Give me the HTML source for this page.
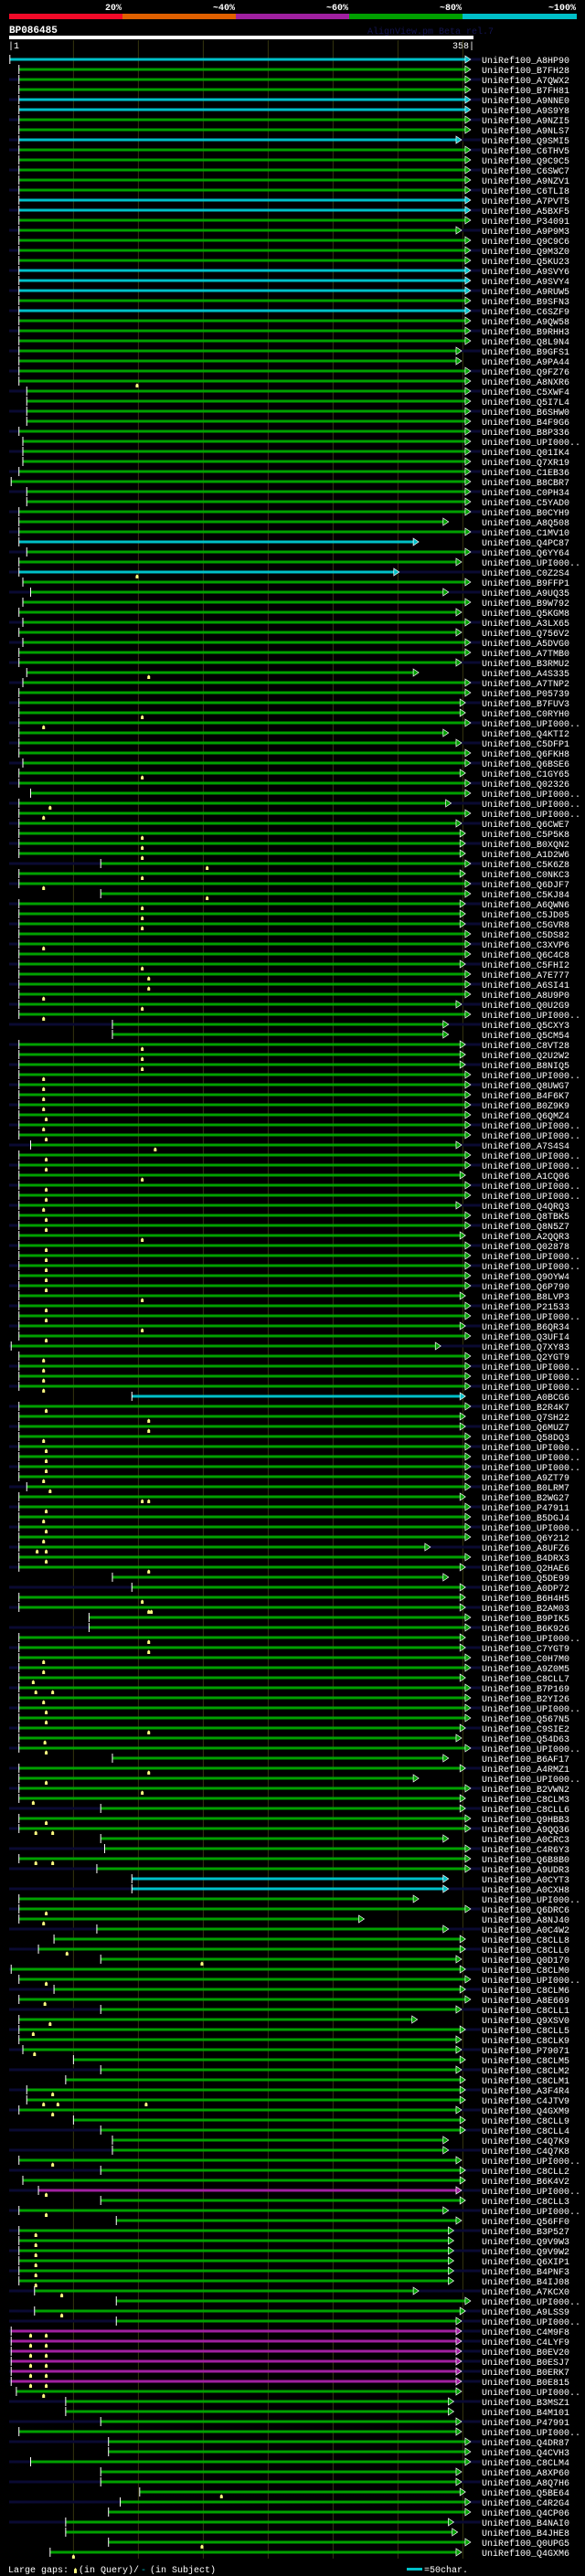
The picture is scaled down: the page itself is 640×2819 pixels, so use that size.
<!DOCTYPE html>
<html><head><meta charset="utf-8"><title>BP086485 alignment</title>
<style>
html,body{margin:0;padding:0;background:#000;}
svg{display:block;}
text{font-family:"Liberation Mono",monospace;}
</style></head>
<body>
<svg id="chart" xmlns="http://www.w3.org/2000/svg" width="640" height="2819" viewBox="0 0 640 2819">
<rect x="0" y="0" width="640" height="2819" fill="#000"/>
<g>
<rect x="10" y="15" width="124" height="6" fill="#f20a28"/>
<rect x="134" y="15" width="124" height="6" fill="#e06000"/>
<rect x="258" y="15" width="124" height="6" fill="#a020a0"/>
<rect x="382" y="15" width="124" height="6" fill="#00a000"/>
<rect x="506" y="15" width="125" height="6" fill="#00c0c8"/>
<text x="133" y="11" fill="#fff" font-size="10" font-weight="bold" text-anchor="end">20%</text>
<text x="257" y="11" fill="#fff" font-size="10" font-weight="bold" text-anchor="end">~40%</text>
<text x="381" y="11" fill="#fff" font-size="10" font-weight="bold" text-anchor="end">~60%</text>
<text x="505" y="11" fill="#fff" font-size="10" font-weight="bold" text-anchor="end">~80%</text>
<text x="630" y="11" fill="#fff" font-size="10" font-weight="bold" text-anchor="end">~100%</text>
</g>
<text x="10" y="36" fill="#fff" font-size="11" font-weight="bold">BP086485</text>
<text x="402" y="37" fill="#141450" font-size="10">AlignView.pm Beta rel.7</text>
<rect x="10" y="39" width="508" height="4" fill="#fff"/>
<text x="9" y="53" fill="#fff" font-size="10">|1</text>
<text x="519" y="53" fill="#fff" font-size="10" text-anchor="end">358|</text>
<g id="grid"></g>
<g id="rows"></g>
<g>
<text x="9" y="2815" fill="#fff" font-size="10">Large gaps:</text>
<path d="M81 2816 L81 2812 L82.5 2810 L84 2812 L84 2816 Z" fill="#ffff80"/>
<text x="86" y="2815" fill="#fff" font-size="10">(in Query)/</text>
<text x="154" y="2815" fill="#00c0c8" font-size="10">-</text>
<text x="164" y="2815" fill="#fff" font-size="10">(in Subject)</text>
<rect x="445" y="2810" width="17" height="3" fill="#00c0c8"/>
<text x="464" y="2815" fill="#fff" font-size="10">=50char.</text>
</g>
</svg>
<script>
const names = ["A8HP90","B7FH28","A7QWX2","B7FH81","A9NNE0","A9S9Y8","A9NZI5","A9NLS7","Q9SMI5","C6THV5","Q9C9C5","C6SWC7","A9NZV1","C6TLI8","A7PVT5","A5BXF5","P34091","A9P9M3","Q9C9C6","Q9M3Z0","Q5KU23","A9SVY6","A9SVY4","A9RUW5","B9SFN3","C6SZF9","A9QW58","B9RHH3",
"Q8L9N4","B9GFS1","A9PA44","Q9FZ76","A8NXR6","C5XWF4","Q5I7L4","B6SHW0","B4F9G6","B8P336","UPI000..","Q01IK4","Q7XR19","C1EB36","B8CBR7","C0PH34","C5YAD0","B0CYH9","A8Q508","C1MV10","Q4PC87","Q6YY64","UPI000..","C0Z2S4","B9FFP1","A9UQ35","B9W792",
"Q5KGM8","A3LX65","Q756V2","A5DVG0","A7TMB0","B3RMU2","A4S335","A7TNP2","P05739","B7FUV3","C0RYH0","UPI000..","Q4KTI2","C5DFP1","Q6FKH8","Q6BSE6","C1GY65","Q02326","UPI000..","UPI000..","UPI000..","Q6CWE7","C5P5K8","B0XQN2","A1D2W6","C5K6Z8","C0NKC3",
"Q6DJF7","C5KJ84","A6QWN6","C5JD05","C5GVR8","C5DS82","C3XVP6","Q6C4C8","C5FHI2","A7E777","A6SI41","A8U9P0","Q0U2G9","UPI000..","Q5CXY3","Q5CM54","C8VT28","Q2U2W2","B8NIQ5","UPI000..","Q8UWG7","B4F6K7","B0Z9K9","Q6QMZ4","UPI000..","UPI000..","A7S4S4","UPI000..",
"UPI000..","A1CQ06","UPI000..","UPI000..","Q4QRQ3","Q8TBK5","Q8N5Z7","A2QQR3","Q02878","UPI000..","UPI000..","Q9OYW4","Q6P790","B8LVP3","P21533","UPI000..","B6QR34","Q3UFI4","Q7XY83","Q2YGT9","UPI000..","UPI000..","UPI000..","A0BCG6","B2R4K7","Q7SH22","Q6MUZ7","Q58DQ3",
"UPI000..","UPI000..","UPI000..","A9ZT79","B0LRM7","B2WG27","P47911","B5DGJ4","UPI000..","Q6Y212","A8UFZ6","B4DRX3","Q2HAE6","Q5DE99","A0DP72","B6H4H5","B2AM03","B9PIK5","B6K926","UPI000..","C7YGT9","C0H7M0","A9Z0M5","C8CLL7","B7P169","B2YI26","UPI000..","Q567N5",
"C9SIE2","Q54D63","UPI000..","B6AF17","A4RMZ1","UPI000..","B2VWN2","C8CLM3","C8CLL6","Q9HBB3","A9QQ36","A0CRC3","C4R6Y3","Q6B8B0","A9UDR3","A0CYT3","A0CXH8","UPI000..","Q6DRC6","A8NJ40","A0C4W2","C8CLL8","C8CLL0","Q0D170","C8CLM0","UPI000..","C8CLM6",
"A8E669","C8CLL1","Q9XSV0","C8CLL5","C8CLK9","P79071","C8CLM5","C8CLM2","C8CLM1","A3F4R4","C4JTV9","Q4GXM9","C8CLL9","C8CLL4","C4Q7K9","C4Q7K8","UPI000..","C8CLL2","B6K4V2","UPI000..","C8CLL3","UPI000..","Q56FF0","B3P527","Q9V9W3","Q9V9W2","Q6XIP1","B4PNF3",
"B4IJ08","A7KCX0","UPI000..","A9LSS9","UPI000..","C4M9F8","C4LYF9","B0EV20","B0ESJ7","B0ERK7","B0E815","UPI000..","B3MSZ1","B4M101","P47991","UPI000..","Q4DR87","Q4CVH3","C8CLM4","A8XP60","A8Q7H6","Q5BE64","C4R2G4","Q4CP06","B4NAI0","B4JHE8","Q0UPG5","Q4GXM6"];

const starts = [1,8,8,8,8,8,8,8,8,8,8,8,8,8,8,8,8,8,8,8,8,8,8,8,8,8,8,8,
8,8,8,8,8,14,14,14,14,8,11,11,11,8,2,14,14,8,8,8,8,14,8,8,11,17,11,
8,11,8,11,8,8,14,11,8,8,8,8,8,8,8,11,8,8,17,8,8,8,8,8,8,71,8,
8,71,8,8,8,8,8,8,8,8,8,8,8,8,80,80,8,8,8,8,8,8,8,8,8,8,17,8,
8,8,8,8,8,8,8,8,8,8,8,8,8,8,8,8,8,8,2,8,8,8,8,95,8,8,8,8,
8,8,8,8,14,8,8,8,8,8,8,8,8,80,95,8,8,62,62,8,8,8,8,8,8,8,8,8,
8,8,8,80,8,8,8,8,71,8,8,71,74,8,68,95,95,8,8,8,68,35,23,71,2,8,35,
8,71,8,8,8,11,50,71,44,14,14,8,50,71,80,80,8,71,11,23,71,8,83,8,8,8,8,8,
8,20,83,20,83,2,2,2,2,2,2,6,44,44,71,8,77,77,17,71,71,101,86,77,44,44,77,32];

const ends = [356,356,356,356,356,356,356,356,349,356,356,356,356,356,356,356,356,349,356,356,356,356,356,356,356,356,356,356,
356,349,349,356,356,356,356,356,356,356,356,356,356,356,356,356,356,356,339,356,316,356,349,301,356,339,356,
349,356,349,356,356,349,316,356,356,352,352,356,339,349,356,356,352,356,356,341,356,349,352,352,352,356,352,
356,356,352,352,352,356,356,356,352,356,356,356,349,356,339,339,352,352,352,356,356,356,356,356,356,356,349,356,
356,352,356,356,349,356,356,352,356,356,356,356,356,352,356,356,352,356,333,356,356,356,356,352,356,352,352,356,
356,356,356,356,356,352,356,356,356,356,325,356,352,339,352,352,352,356,356,352,352,356,356,352,356,356,356,356,
352,349,356,339,352,316,356,352,352,356,356,339,356,356,356,339,339,316,356,274,339,352,352,349,352,356,352,
356,349,315,352,349,349,352,349,352,352,352,349,352,352,339,339,349,352,352,349,352,339,349,343,343,343,343,343,
343,316,356,352,349,349,349,349,349,349,349,349,343,343,349,349,356,356,356,349,349,352,356,356,343,346,356,349];

const colors = "cgggccggcgggggccgggggcccgcgg" +
"ggggggggggggggggggggcggcggg" +
"g".repeat(78) + "c" +
"g".repeat(47) + "cc" +
"g".repeat(29) + "m" +
"g".repeat(13) + "mmmmmm" +
"g".repeat(17);

const subjectFlags = "1010101011010101010101010101" +
"010101010101010101010101010" +
"010101010101010101010101010" +
"101010101010101010101010101" +
"010101010101010101010101010" +
"1010101010101010101010101010" +
"101010101010101010101010101" +
"0101010101010101010101010101" +
"0101011111111010101010101010";

const inserts = {32:[99],51:[99],61:[108],65:[103],66:[27],71:[103],74:[32],75:[27],77:[103],78:[103],79:[103],80:[153],81:[103],
82:[27],83:[153],84:[103],85:[103],86:[103],88:[27],90:[103],91:[108],92:[108],93:[27],94:[103],95:[27],98:[103],99:[103],100:[103],
101:[27],102:[27],103:[27],104:[27],105:[29],106:[27],107:[29],108:[113],109:[29],110:[29],111:[103],112:[29],113:[29],114:[27],
115:[29],116:[29],117:[103],118:[29],119:[29],120:[29],121:[29],122:[29],123:[103],124:[29],125:[29],126:[103],127:[29],129:[27],
130:[27],131:[27],132:[27],134:[29],135:[108],136:[108],137:[27],138:[29],139:[29],140:[29],141:[27],142:[32],143:[103,108],144:[29],
145:[27],146:[29],147:[27],148:[22,29],149:[29],150:[108],153:[103],154:[108,110],157:[108],158:[108],159:[27],160:[27],161:[19],
162:[21,34],163:[27],164:[29],165:[29],166:[108],167:[28],168:[29],170:[108],171:[29],172:[103],173:[19],175:[29],176:[21,34],
179:[21,34],184:[29],185:[27],188:[45],189:[149],191:[29],193:[28],195:[32],196:[19],198:[20],202:[34],203:[27,38,106],204:[34],
209:[34],212:[29],214:[29],216:[21],217:[21],218:[21],219:[21],220:[21],221:[21],222:[41],224:[41],226:[17,29],227:[17,29],
228:[17,29],229:[17,29],230:[17,29],231:[17,29],232:[27],242:[164],247:[149],248:[50]};

const gridTicks = [50,100,150,200,250,300,350];

const NS = "http://www.w3.org/2000/svg";
const PX0 = 10.8, PPC = 1.42, ROW0 = 65, ROWH = 11;
function xs(p){ return PX0 + (p - 1) * PPC; }
function ys(i){ return ROW0 + i * ROWH; }
const colorMap = {c:"#00c0c8", g:"#00a000", m:"#a020a0"};
function mk(tag, attrs){ const e = document.createElementNS(NS, tag); for (const k in attrs) e.setAttribute(k, attrs[k]); return e; }

const grid = document.getElementById("grid");
gridTicks.forEach(t => {
  const l = mk("line", {x1: xs(t), x2: xs(t), y1: 44, y2: 2800, stroke: "#34340e", "stroke-width": 1});
  
  
  grid.appendChild(l);
});

const rowsG = document.getElementById("rows");
names.forEach((nm, i) => {
  const y = ys(i);
  const col = colorMap[colors[i]] || colorMap.g;
  const g = mk("g", {});
  
  
  if (subjectFlags[i] === "1") {
    const s = mk("rect", {x: 10, y: y - 1.5, width: 516, height: 3, fill: "#0a0a32"});
    
    
    g.appendChild(s);
  }
  const x1 = xs(starts[i]), x2 = xs(ends[i]);
  const bar = mk("rect", {x: x1, y: y - 1.5, width: Math.max(0, x2 - 6 - x1), height: 3, fill: col});
  
  
  g.appendChild(bar);
  const tick = mk("line", {x1: x1, x2: x1, y1: y - 5, y2: y + 5, stroke: "#fff", "stroke-width": 1});
  
  
  g.appendChild(tick);
  const tri = mk("path", {d: `M${x2 - 6} ${y - 4} L${x2} ${y} L${x2 - 6} ${y + 4} Z`, fill: col, stroke: "#fff", "stroke-width": 0.7});
  
  
  g.appendChild(tri);
  (inserts[i] || []).forEach(p => {
    const xi = xs(p);
    const m = mk("path", {d: `M${xi - 1.5} ${y + 7} L${xi - 1.5} ${y + 4} L${xi} ${y + 2.5} L${xi + 1.5} ${y + 4} L${xi + 1.5} ${y + 7} Z`, fill: "#ffff80"});
    
    
    g.appendChild(m);
  });
  const t = mk("text", {x: 527, y: y + 4, fill: "#fff", "font-size": 10});
  t.textContent = "UniRef100_" + nm;
  
  
  g.appendChild(t);
  rowsG.appendChild(g);
});
</script>
</body></html>
